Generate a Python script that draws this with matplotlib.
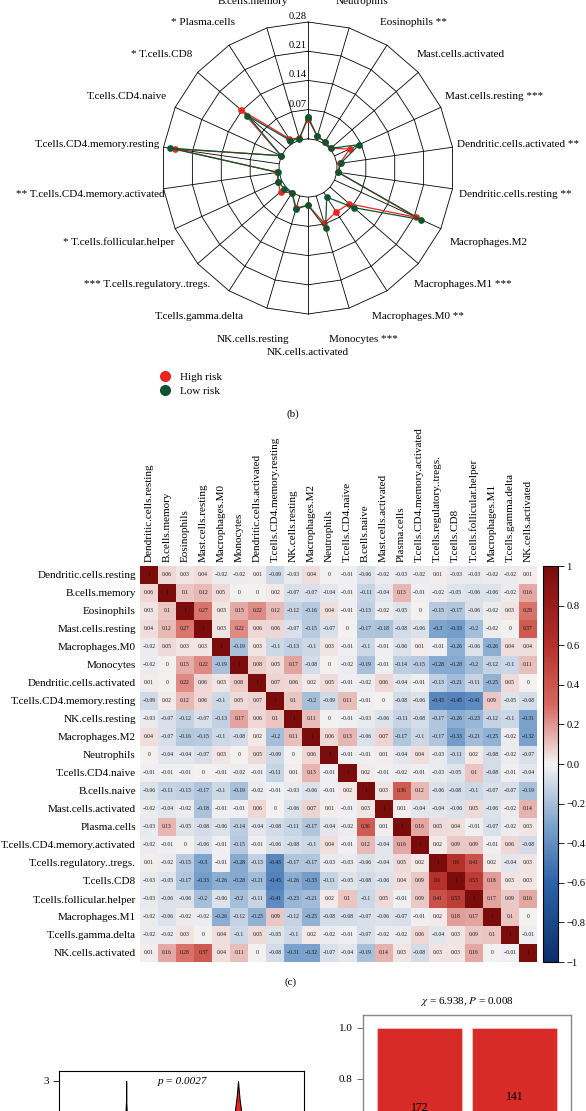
import numpy as np
import matplotlib
matplotlib.use('Agg')
import matplotlib.pyplot as plt
from matplotlib.colors import LinearSegmentedColormap
from matplotlib.lines import Line2D

plt.rcParams['font.family'] = ['Liberation Serif', 'DejaVu Serif']
plt.rcParams['mathtext.fontset'] = 'stix'

# ---- panel (b): radar, counterclockwise from the top spoke
radar_labels = ['B.cells.naive', 'B.cells.memory', '* Plasma.cells', '* T.cells.CD8',
                'T.cells.CD4.naive', 'T.cells.CD4.memory.resting',
                '** T.cells.CD4.memory.activated', '* T.cells.follicular.helper',
                '*** T.cells.regulatory..tregs.', 'T.cells.gamma.delta',
                'NK.cells.resting', 'NK.cells.activated', 'Monocytes ***',
                'Macrophages.M0 **', 'Macrophages.M1 ***', 'Macrophages.M2',
                'Dendritic.cells.resting **', 'Dendritic.cells.activated **',
                'Mast.cells.resting ***', 'Mast.cells.activated', 'Eosinophils **',
                'Neutrophils']
high_risk = [0.048, 0.004, 0.014, 0.143, 0.001, 0.252, 0.004, 0.010, 0.017, 0.001,
             0.030, 0.019, 0.068, 0.055, 0.061, 0.214, 0.003, 0.007, 0.040, 0.002,
             0.005, 0.009]
low_risk = [0.053, 0.003, 0.008, 0.122, 0.001, 0.264, 0.003, 0.008, 0.006, 0.001,
            0.033, 0.019, 0.080, 0.013, 0.075, 0.228, 0.003, 0.009, 0.065, 0.002,
            0.005, 0.009]
radar_ticks = [0.07, 0.14, 0.21, 0.28]

# ---- panel (c): correlation matrix
cells = ['Dendritic.cells.resting', 'B.cells.memory', 'Eosinophils', 'Mast.cells.resting',
         'Macrophages.M0', 'Monocytes', 'Dendritic.cells.activated',
         'T.cells.CD4.memory.resting', 'NK.cells.resting', 'Macrophages.M2', 'Neutrophils',
         'T.cells.CD4.naive', 'B.cells.naive', 'Mast.cells.activated', 'Plasma.cells',
         'T.cells.CD4.memory.activated', 'T.cells.regulatory..tregs.', 'T.cells.CD8',
         'T.cells.follicular.helper', 'Macrophages.M1', 'T.cells.gamma.delta',
         'NK.cells.activated']
corr = [
    [1, 0.06, 0.03, 0.04, -0.02, -0.02, 0.01, -0.09, -0.03, 0.04, 0, -0.01, -0.06, -0.02, -0.03, -0.02, 0.01, -0.03, -0.03, -0.02, -0.02, 0.01],
    [0.06, 1, 0.1, 0.12, 0.05, 0, 0, 0.02, -0.07, -0.07, -0.04, -0.01, -0.11, -0.04, 0.13, -0.01, -0.02, -0.05, -0.06, -0.06, -0.02, 0.16],
    [0.03, 0.1, 1, 0.27, 0.03, 0.15, 0.22, 0.12, -0.12, -0.16, 0.04, -0.01, -0.13, -0.02, -0.05, 0, -0.15, -0.17, -0.06, -0.02, 0.03, 0.28],
    [0.04, 0.12, 0.27, 1, 0.03, 0.22, 0.06, 0.06, -0.07, -0.15, -0.07, 0, -0.17, -0.18, -0.08, -0.06, -0.3, -0.33, -0.2, -0.02, 0, 0.37],
    [-0.02, 0.05, 0.03, 0.03, 1, -0.19, 0.03, -0.1, -0.13, -0.1, 0.03, -0.01, -0.1, -0.01, -0.06, 0.01, -0.01, -0.26, -0.06, -0.26, 0.04, 0.04],
    [-0.02, 0, 0.15, 0.22, -0.19, 1, 0.08, 0.05, 0.17, -0.08, 0, -0.02, -0.19, -0.01, -0.14, -0.15, -0.28, -0.28, -0.2, -0.12, -0.1, 0.11],
    [0.01, 0, 0.22, 0.06, 0.03, 0.08, 1, 0.07, 0.06, 0.02, 0.05, -0.01, -0.02, 0.06, -0.04, -0.01, -0.13, -0.21, -0.11, -0.25, 0.05, 0],
    [-0.09, 0.02, 0.12, 0.06, -0.1, 0.05, 0.07, 1, 0.1, -0.2, -0.09, 0.11, -0.01, 0, -0.08, -0.06, -0.43, -0.45, -0.41, 0.09, -0.05, -0.08],
    [-0.03, -0.07, -0.12, -0.07, -0.13, 0.17, 0.06, 0.1, 1, 0.11, 0, -0.01, -0.03, -0.06, -0.11, -0.08, -0.17, -0.26, -0.23, -0.12, -0.1, -0.31],
    [0.04, -0.07, -0.16, -0.15, -0.1, -0.08, 0.02, -0.2, 0.11, 1, 0.06, 0.13, -0.06, 0.07, -0.17, -0.1, -0.17, -0.33, -0.21, -0.25, -0.02, -0.32],
    [0, -0.04, -0.04, -0.07, 0.03, 0, 0.05, -0.09, 0, 0.06, 1, -0.01, -0.01, 0.01, -0.04, 0.04, -0.03, -0.11, 0.02, -0.08, -0.02, -0.07],
    [-0.01, -0.01, -0.01, 0, -0.01, -0.02, -0.01, -0.11, 0.01, 0.13, -0.01, 1, 0.02, -0.01, -0.02, -0.01, -0.03, -0.05, 0.1, -0.08, -0.01, -0.04],
    [-0.06, -0.11, -0.13, -0.17, -0.1, -0.19, -0.02, -0.01, -0.03, -0.06, -0.01, 0.02, 1, 0.03, 0.36, 0.12, -0.06, -0.08, -0.1, -0.07, -0.07, -0.19],
    [-0.02, -0.04, -0.02, -0.18, -0.01, -0.01, 0.06, 0, -0.06, 0.07, 0.01, -0.01, 0.03, 1, 0.01, -0.04, -0.04, -0.06, 0.05, -0.06, -0.02, 0.14],
    [-0.03, 0.13, -0.05, -0.08, -0.06, -0.14, -0.04, -0.08, -0.11, -0.17, -0.04, -0.02, 0.36, 0.01, 1, 0.16, 0.05, 0.04, -0.01, -0.07, -0.02, 0.03],
    [-0.02, -0.01, 0, -0.06, -0.01, -0.15, -0.01, -0.06, -0.08, -0.1, 0.04, -0.01, 0.12, -0.04, 0.16, 1, 0.02, 0.09, 0.09, -0.01, 0.06, -0.08],
    [0.01, -0.02, -0.15, -0.3, -0.01, -0.28, -0.13, -0.43, -0.17, -0.17, -0.03, -0.03, -0.06, -0.04, 0.05, 0.02, 1, 0.6, 0.41, 0.02, -0.04, 0.03],
    [-0.03, -0.05, -0.17, -0.33, -0.26, -0.28, -0.21, -0.45, -0.26, -0.33, -0.11, -0.05, -0.08, -0.06, 0.04, 0.09, 0.6, 1, 0.53, 0.18, 0.03, 0.03],
    [-0.03, -0.06, -0.06, -0.2, -0.06, -0.2, -0.11, -0.41, -0.23, -0.21, 0.02, 0.1, -0.1, 0.05, -0.01, 0.09, 0.41, 0.53, 1, 0.17, 0.09, 0.16],
    [-0.02, -0.06, -0.02, -0.02, -0.26, -0.12, -0.25, 0.09, -0.12, -0.25, -0.08, -0.08, -0.07, -0.06, -0.07, -0.01, 0.02, 0.18, 0.17, 1, 0.1, 0],
    [-0.02, -0.02, 0.03, 0, 0.04, -0.1, 0.05, -0.05, -0.1, 0.02, -0.02, -0.01, -0.07, -0.02, -0.02, 0.06, -0.04, 0.03, 0.09, 0.1, 1, -0.01],
    [0.01, 0.16, 0.28, 0.37, 0.04, 0.11, 0, -0.08, -0.31, -0.32, -0.07, -0.04, -0.19, 0.14, 0.03, -0.08, 0.03, 0.03, 0.16, 0, -0.01, 1],
]
cbar_ticks = [1, 0.8, 0.6, 0.4, 0.2, 0.0, -0.2, -0.4, -0.6, -0.8, -1]
cbar_labels = ['1', '0.8', '0.6', '0.4', '0.2', '0.0', '\u22120.2', '\u22120.4',
               '\u22120.6', '\u22120.8', '\u22121']

# ---- bottom panels (only their tops are in view)
violin_y = [2.0, 2.2, 2.4, 2.64, 2.8, 3.0]
violin_left_w = [0.012, 0.008, 0.005, 0.0, 0.0, 0.0]
violin_right_w = [0.06, 0.045, 0.028, 0.014, 0.007, 0.0]
p_text = 'p = 0.0027'
bar_red = [172, 141]
bar_other = [102, 120]
chi_title = r'$\chi$ = 6.938, $P$ = 0.008'

RED = '#E8251F'
GREEN = '#0B5530'

fig = plt.figure(figsize=(5.86, 11.11), dpi=100)
W, H = 586.0, 1111.0

# ================= radar =================
ax = fig.add_axes([162 / W, 1 - 314 / H, 292 / W, 292 / H], projection='polar')
ax.set_theta_offset(np.pi / 2)
ax.set_ylim(0, 0.28)
ax.set_rorigin(-0.07)
ax.axis('off')

n = len(radar_labels)
theta = np.linspace(0, 2 * np.pi, n, endpoint=False)
tc = np.append(theta, theta[0])

for lv in [0] + radar_ticks:
    ax.plot(tc, [lv] * (n + 1), color='black', lw=0.6, clip_on=False)
for t in theta:
    ax.plot([t, t], [0, 0.28], color='black', lw=0.6, clip_on=False)

ax.plot(tc, high_risk + high_risk[:1], color=RED, lw=0.9, marker='o', ms=3.8,
        clip_on=False, zorder=3)
ax.plot(tc, low_risk + low_risk[:1], color=GREEN, lw=0.9, marker='o', ms=3.8,
        clip_on=False, zorder=4)

for tk in radar_ticks:
    ax.annotate('%.2f' % tk, xy=(0, tk), xytext=(-1, 1), textcoords='offset pixels',
                ha='right', va='bottom', fontsize=7.5, annotation_clip=False)

fig.canvas.draw()
rend = fig.canvas.get_renderer()
for k, (t, lab) in enumerate(zip(theta, radar_labels)):
    ann = ax.annotate(lab, xy=(t, 0.35), xytext=(0, 0), textcoords='offset pixels',
                      ha='center', va='center', fontsize=8, annotation_clip=False)
    w = ann.get_window_extent(rend).width
    a = t + np.pi / 2
    dy = 0 if k == 0 else -1.5 - 8 * max(0.0, -np.sin(a)) ** 40
    ann.xyann = (0.3 * w * np.cos(a), dy)

handles = [Line2D([], [], marker='o', ls='', color=RED, ms=7),
           Line2D([], [], marker='o', ls='', color=GREEN, ms=7)]
fig.legend(handles, ['High risk', 'Low risk'], loc='upper left',
           bbox_to_anchor=(154 / W, 1 - 367 / H), frameon=False, fontsize=8,
           handletextpad=0.85, labelspacing=0.35, handlelength=1.0, borderpad=0)
fig.text(293 / W, 1 - 414 / H, '(b)', ha='center', va='center', fontsize=8)

# ================= heatmap =================
cmap = LinearSegmentedColormap.from_list('corr', [
    (0.0, '#0B2F6B'), (0.2, '#2C63A9'), (0.35, '#7EA5CE'), (0.5, '#F4F2F2'),
    (0.65, '#D6695F'), (0.8, '#B5302B'), (1.0, '#7A0C0C')])

hx = fig.add_axes([140 / W, 1 - 962 / H, 397 / W, 396 / H])
im = hx.imshow(np.array(corr), cmap=cmap, vmin=-1, vmax=1, aspect='auto')
for i in range(len(cells)):
    for j in range(len(cells)):
        v = corr[i][j]
        s = ('%g' % v).replace('-', '\u2212')
        hx.text(j, i, s, ha='center', va='center', fontsize=4, color='#111111')
hx.set_xticks(range(len(cells)))
hx.set_yticks(range(len(cells)))
hx.set_xticklabels(cells, rotation=90, fontsize=8)
hx.set_yticklabels(cells, fontsize=8)
hx.xaxis.tick_top()
hx.tick_params(length=0, pad=3)
for sp in hx.spines.values():
    sp.set_visible(False)

cax = fig.add_axes([543 / W, 1 - 962 / H, 15 / W, 396 / H])
cb = fig.colorbar(im, cax=cax)
cb.set_ticks(cbar_ticks)
cb.set_ticklabels(cbar_labels)
cb.ax.tick_params(labelsize=7.6, length=4, width=0.6, pad=2)
cb.outline.set_linewidth(0.8)
fig.text(291 / W, 1 - 982 / H, '(c)', ha='center', va='center', fontsize=8)

# ================= violin (top part) =================
vx = fig.add_axes([59 / W, 1 - 1290 / H, 245 / W, 219 / H])
vx.set_xlim(0.4, 2.59)
vx.set_ylim(-1.18, 3.2)
vy = np.array(violin_y)
wl = np.array(violin_left_w)
wr = np.array(violin_right_w)
vx.fill_betweenx(vy, 1 - wl, 1 + wl, facecolor='black', edgecolor='black', lw=0.8)
vx.fill_betweenx(vy, 2 - wr, 2 + wr, facecolor=RED, edgecolor='black', lw=0.8)
vx.set_yticks([0, 1, 2, 3])
vx.set_xticks([])
vx.tick_params(labelsize=8, length=4, width=0.6)
vx.text(1.5, 3.0, p_text, ha='center', va='center', fontsize=8, style='italic')
for sp in vx.spines.values():
    sp.set_linewidth(0.8)

# ================= stacked bars (top part) =================
bx = fig.add_axes([363 / W, 1 - 1296 / H, 208 / W, 281 / H])
bx.set_xlim(0.4, 2.6)
bx.set_ylim(-0.05, 1.05)
tot = np.array(bar_red) + np.array(bar_other)
frac_red = np.array(bar_red) / tot
frac_other = np.array(bar_other) / tot
pos = [1, 2]
bx.bar(pos, frac_other, width=0.9, color='#2F6DB0', edgecolor='white', lw=0.5)
bx.bar(pos, frac_red, bottom=frac_other, width=0.9, color='#D72B27',
       edgecolor='#F3C9C7', lw=0.5)
for p, b, f, c in zip(pos, frac_other, frac_red, bar_red):
    bx.text(p, b + f / 2, str(c), ha='center', va='center', fontsize=8.5)
bx.set_yticks([0, 0.2, 0.4, 0.6, 0.8, 1.0])
bx.set_yticklabels(['0.0', '0.2', '0.4', '0.6', '0.8', '1.0'])
bx.set_xticks([])
bx.tick_params(labelsize=8, length=4, width=0.6, color='#555555')
bx.set_title(chi_title, fontsize=8, pad=8)
for sp in bx.spines.values():
    sp.set_color('#888888')
    sp.set_linewidth(1.0)

fig.savefig('out.png', dpi=100)
